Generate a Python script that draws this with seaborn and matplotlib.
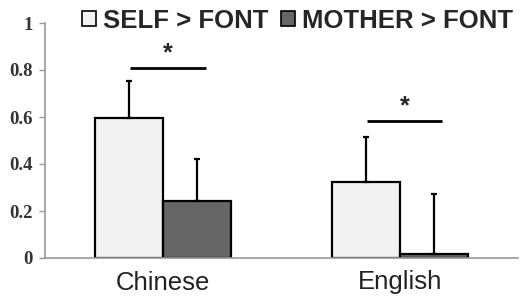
import matplotlib
matplotlib.use("Agg")
import matplotlib.pyplot as plt
import seaborn as sns
import pandas as pd
from matplotlib.patches import Patch

categories = ["Chinese", "English"]
conditions = ["SELF > FONT", "MOTHER > FONT"]
self_vals = [0.595, 0.323]
mother_vals = [0.243, 0.018]
self_err = [0.16, 0.19]
mother_err = [0.18, 0.255]
sig_y = [0.81, 0.585]
yticks = [0, 0.2, 0.4, 0.6, 0.8, 1]
ytick_labels = ["0", "0.2", "0.4", "0.6", "0.8", "1"]

colors = {"SELF > FONT": "#f2f2f2", "MOTHER > FONT": "#666666"}

df = pd.DataFrame({
    "lang": categories * 2,
    "cond": [conditions[0]] * 2 + [conditions[1]] * 2,
    "val": self_vals + mother_vals,
    "err": self_err + mother_err,
})

sns.set_style("white")
fig = plt.figure(figsize=(5.24, 3.02), dpi=100)
ax = fig.add_axes([45 / 524, 44 / 302, 473 / 524, 235 / 302])

sns.barplot(data=df, x="lang", y="val", hue="cond", order=categories,
            hue_order=conditions, palette=colors, width=0.575,
            edgecolor="black", linewidth=1.6, errorbar=None, legend=False, ax=ax)

# upward-only error bars
for cont, vals, errs in zip(ax.containers, [self_vals, mother_vals], [self_err, mother_err]):
    xs = [p.get_x() + p.get_width() / 2 for p in cont.patches]
    ax.errorbar(xs, vals, yerr=[[0] * len(vals), errs], fmt="none",
                ecolor="black", elinewidth=1.6, capsize=2.5, capthick=1.6, zorder=3)

# significance markers
for i, y in enumerate(sig_y):
    ax.plot([i - 0.14, i + 0.18], [y, y], color="black", lw=2, solid_capstyle="butt")
    ax.text(i + 0.02, y + 0.01, "*", ha="center", va="bottom", fontsize=18,
            fontweight="bold", family="Liberation Sans")

ax.set_xlim(-0.5, 1.5)
ax.set_ylim(0, 1)
ax.set_xlabel("")
ax.set_ylabel("")
ax.set_yticks(yticks)
ax.set_yticklabels(ytick_labels, family="Liberation Serif", fontweight="bold",
                   fontsize=13.5, color="#333333")
ax.set_xticks(range(len(categories)))
ax.set_xticklabels(categories, family="Liberation Sans", fontsize=18.5, color="#222222")
ax.set_xticks([-0.5, 0.5, 1.5], minor=True)
ax.tick_params(axis="x", which="major", length=0, pad=9)
ax.tick_params(axis="x", which="minor", length=4, width=1, color="#999999", direction="out")
ax.tick_params(axis="y", length=4, width=1, color="#999999", direction="out", left=True, pad=5)
for s in ["top", "right"]:
    ax.spines[s].set_visible(False)
for s in ["left", "bottom"]:
    ax.spines[s].set_color("#999999")
    ax.spines[s].set_linewidth(1.2)

handles = [Patch(facecolor=colors[c], edgecolor="black", linewidth=1.2, label=c) for c in conditions]
fig.legend(handles=handles, loc="upper left", bbox_to_anchor=(72 / 524, 1.005), ncol=2,
           frameon=False, prop={"family": "Liberation Sans", "weight": "bold", "size": 18.5},
           handlelength=0.55, handleheight=0.55, handletextpad=0.25, columnspacing=0.5,
           borderpad=0.2, borderaxespad=0.2)

fig.savefig("out.png", dpi=100)
